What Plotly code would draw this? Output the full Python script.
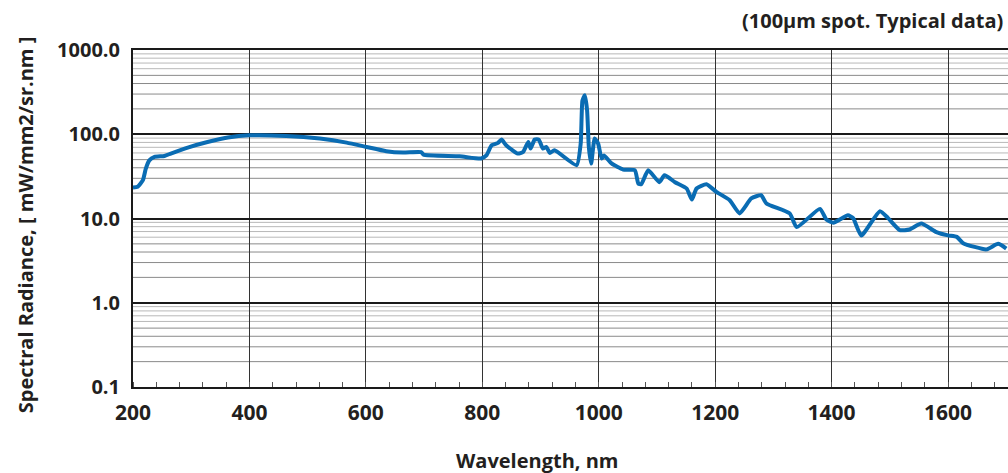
import plotly.graph_objects as go

# Spectral radiance of the source (typical data, 100 µm spot)
wavelength_nm = [
    200, 208, 217, 222, 228, 237, 254, 265, 294, 328, 363, 400, 463, 521, 567,
    601, 635, 664, 695, 699, 761, 798, 807, 816, 827, 833, 841, 861, 870, 879,
    883, 890, 897, 904, 910, 916, 924, 962, 969, 972, 976, 980, 983, 987, 993,
    999, 1005, 1009, 1022, 1042, 1062, 1068, 1073, 1085, 1104, 1113, 1131, 1151,
    1160, 1168, 1185, 1202, 1225, 1242, 1262, 1279, 1288, 1328, 1340, 1380,
    1391, 1403, 1428, 1437, 1451, 1483, 1497, 1517, 1534, 1554, 1580, 1600,
    1615, 1626, 1666, 1686, 1700,
]
radiance = [
    23.3, 23.8, 28.5, 39, 49, 53.9, 55.3, 59, 69.5, 81, 91.4, 97, 95.5, 88.9, 79.6,
    70.7, 62.9, 60.6, 61.4, 57.4, 54.8, 51.5, 56, 74, 78.9, 86.5, 74, 59, 61.6, 81,
    67.7, 86.5, 86.5, 67.7, 70.7, 60, 64.6, 42.9, 77.5, 250, 290, 193, 70.7, 44.9, 88.9,
    77.5, 51.5, 56, 45, 38.1, 37.4, 26, 25.5, 37.4, 27, 32.6, 27, 22.7,
    16.8, 22.7, 25.5, 20.7, 16.5, 11.5, 17.3, 18.9, 15.1, 11.5, 7.9, 13.0,
    9.7, 8.9, 10.9, 10.1, 6.3, 12.2, 10.1, 7.3, 7.4, 8.7, 6.9, 6.3,
    6.05, 5.1, 4.3, 5.0, 4.4,
]

x_ticks = [200, 400, 600, 800, 1000, 1200, 1400, 1600]
y_ticks = [0.1, 1, 10, 100, 1000]
y_tick_labels = ["0.1", "1.0", "10.0", "100.0", "1000.0"]
decades = [0.1, 1, 10, 100]
minor_dark = [2, 3, 4, 5]
minor_light = [6, 7, 8, 9]

TEXT = "#231f20"
FONT = "Open Sans"
LINE_BLUE = "#0a6cb3"

fig = go.Figure()
fig.add_trace(go.Scatter(
    x=wavelength_nm, y=radiance, mode="lines",
    line=dict(color=LINE_BLUE, width=4, shape="spline", smoothing=0.5),
    hoverinfo="skip", showlegend=False,
))

# thin horizontal lines inside each decade
shapes = []
for d in decades:
    for k, col in [(m, "#8a8a8a") for m in minor_dark] + [(m, "#b8b8b8") for m in minor_light]:
        shapes.append(dict(
            type="line", xref="paper", x0=0, x1=1, yref="y", y0=d * k, y1=d * k,
            line=dict(color=col, width=1), layer="below",
        ))

fig.update_layout(
    width=1008, height=473,
    margin=dict(l=133, r=0, t=50, b=86),
    paper_bgcolor="white", plot_bgcolor="white",
    font=dict(family=FONT, color=TEXT),
    shapes=shapes,
    xaxis=dict(
        range=[200, 1703], tickvals=x_ticks, ticks="outside", ticklen=6,
        tickcolor="rgba(0,0,0,0)",
        tickfont=dict(family=FONT, size=21, color=TEXT, weight="bold"),
        showgrid=True, gridcolor="#333333", gridwidth=1,
        showline=True, linecolor="#1a1a1a", linewidth=2, mirror=True,
        zeroline=False,
        minor=dict(dtick=40, tick0=200, ticks="inside", ticklen=5,
                   tickcolor="#555555", tickwidth=1, showgrid=False),
    ),
    yaxis=dict(
        type="log", range=[-1, 3], tickvals=y_ticks, ticktext=y_tick_labels,
        ticks="outside", ticklen=7, tickcolor="rgba(0,0,0,0)",
        tickfont=dict(family=FONT, size=20, color=TEXT, weight="bold"),
        showgrid=True, gridcolor="#1a1a1a", gridwidth=2,
        showline=True, linecolor="#1a1a1a", linewidth=2,
        zeroline=False,
    ),
    annotations=[
        dict(text="(100µm spot. Typical data)", xref="paper", yref="paper",
             x=1.0, xshift=-3, y=1.0, yshift=30, xanchor="right", yanchor="middle",
             showarrow=False,
             font=dict(family=FONT, size=20, color=TEXT, weight="bold")),
        dict(text="Wavelength, nm", xref="paper", yref="paper",
             x=(537 - 133) / 875, y=0, yshift=-73, xanchor="center", yanchor="middle",
             showarrow=False,
             font=dict(family=FONT, size=20, color=TEXT, weight="bold")),
        dict(text="Spectral Radiance, [ mW/mm2/sr.nm ]", xref="paper", yref="paper",
             x=0, xshift=-108, y=0.48, xanchor="center", yanchor="middle",
             textangle=-90, showarrow=False,
             font=dict(family=FONT, size=20, color=TEXT, weight="bold")),
    ],
)

fig.write_html("out.html")
